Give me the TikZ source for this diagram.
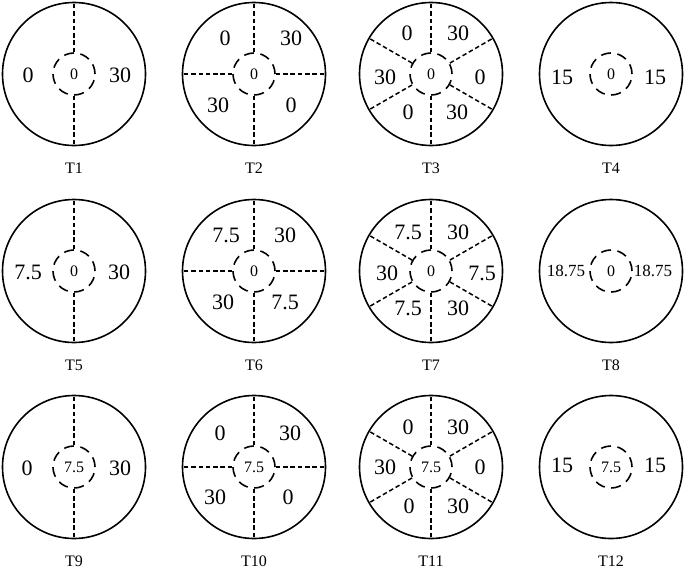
\documentclass[tikz,border=0pt]{standalone}
\usepackage{fontspec}
\setmainfont{Liberation Serif}
\begin{document}
\begin{tikzpicture}[x=1pt,y=-1pt,line width=1.6pt]

\tikzstyle{disc}=[circle,draw,minimum size=143,inner sep=0];
\tikzstyle{core}=[circle,draw,dash pattern=on 10pt off 6.5pt,minimum size=42,inner sep=0,font=\fontsize{16}{16}\selectfont];
\tikzstyle{split}=[dash pattern=on 4.5pt off 2.8pt,line width=1.5pt];
\tikzstyle{val}=[inner sep=0,font=\fontsize{22}{22}\selectfont];
\tikzstyle{tag}=[inner sep=0,font=\fontsize{16}{16}\selectfont];

\useasboundingbox (0,0) rectangle (685,570);

% discs, cores and titles
\foreach \n/\x/\y/\c in {1/74/74/0,2/254/74/0,3/431/74/0,4/611/74/0,
                         5/74/271/0,6/254/271/0,7/431/271/0,8/611/271/0,
                         9/74/467/7.5,10/254/467/7.5,11/431/467/7.5,12/611/467/7.5}{
  \node[disc] (d\n) at (\x,\y) {};
  \node[core] (c\n) at (\x,\y) {\c};
  \node[tag] (t\n) at (\x,\y+94) {T\n};
}

% dashed dividers
\foreach \n in {1,5,9}
  \foreach \a in {90,270} \draw[split] (c\n.\a) -- (d\n.\a);
\foreach \n in {2,6,10}
  \foreach \a in {0,90,180,270} \draw[split] (c\n.\a) -- (d\n.\a);
\foreach \n in {3,7,11}
  \foreach \a in {30,90,150,210,270,330} \draw[split] (c\n.\a) -- (d\n.\a);

% values, row 1
\foreach \x/\y/\s [count=\i] in {28/75/0,120/75/30,
    225/38/0,291/38/30,218/105/30,291/105/0,
    407/33/0,458/33/30,385/77/30,480/77/0,408/112/0,457/112/30,
    562/77/15,655/77/15}
  \node[val] (a\i) at (\x,\y) {\s};

% values, row 2
\foreach \x/\y/\s [count=\i] in {28/272/7.5,119/272/30,
    226/235/7.5,285/235/30,223/302/30,285/302/7.5,
    408/232/7.5,458/232/30,387/273/30,482/273/7.5,408/308/7.5,458/308/30}
  \node[val] (b\i) at (\x,\y) {\s};
\node[val,font=\fontsize{17}{17}\selectfont] (b13) at (566,271) {18.75};
\node[val,font=\fontsize{17}{17}\selectfont] (b14) at (653,271) {18.75};

% values, row 3
\foreach \x/\y/\s [count=\i] in {27/468/0,120/468/30,
    220/433/0,290/433/30,215/497/30,288/497/0,
    408/427/0,458/427/30,385/467/30,480/467/0,409/506/0,458/506/30,
    562/465/15,655/465/15}
  \node[val] (e\i) at (\x,\y) {\s};

\end{tikzpicture}
\end{document}
